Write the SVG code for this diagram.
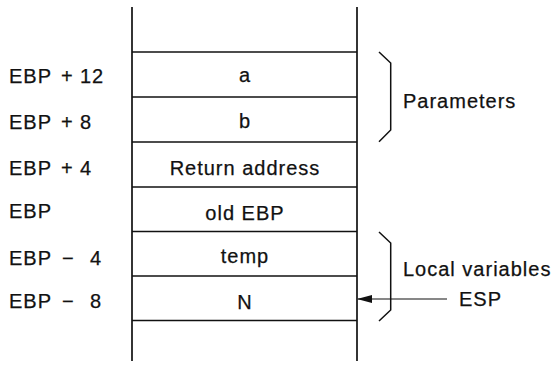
<svg xmlns="http://www.w3.org/2000/svg" width="554" height="366" viewBox="0 0 554 366">
<style>
text{font-family:"Liberation Sans",Arial,sans-serif;font-size:20px;letter-spacing:1px;fill:#111;stroke:#111;stroke-width:0.25}
.c{text-anchor:middle}
.v{stroke:#111;stroke-width:1.7;fill:none}
.h{stroke:#111;stroke-width:1.3;fill:none}
.b{stroke:#111;stroke-width:1.5;fill:none;stroke-linejoin:miter}
</style>
<defs>
<marker id="ah" markerWidth="15" markerHeight="8" refX="14" refY="4" orient="auto" markerUnits="userSpaceOnUse">
<path d="M0,0 L15,4 L0,8 Z" fill="#111"/>
</marker>
</defs>
<rect width="554" height="366" fill="#fff"/>
<g id="stack">
<line class="v" x1="132" y1="7" x2="132" y2="361"/>
<line class="v" x1="357" y1="7" x2="357" y2="361"/>
</g>
<g id="cell-a">
<line class="h" x1="132" y1="52" x2="357" y2="52"/>
<text class="c" x="245" y="82">a</text>
</g>
<g id="cell-b">
<line class="h" x1="132" y1="97" x2="357" y2="97"/>
<text class="c" x="245" y="128">b</text>
</g>
<g id="cell-ret">
<line class="h" x1="132" y1="142" x2="357" y2="142"/>
<text class="c" x="245" y="175">Return address</text>
</g>
<g id="cell-oldebp">
<line class="h" x1="132" y1="187" x2="357" y2="187"/>
<text class="c" x="245" y="220">old EBP</text>
</g>
<g id="cell-temp">
<line class="h" x1="132" y1="231.5" x2="357" y2="231.5"/>
<text class="c" x="245" y="263">temp</text>
</g>
<g id="cell-n">
<line class="h" x1="132" y1="276" x2="357" y2="276"/>
<line class="h" x1="132" y1="320.5" x2="357" y2="320.5"/>
<text class="c" x="245" y="309">N</text>
</g>
<g id="labels">
<text x="9" y="83">EBP <tspan x="61">+</tspan> <tspan x="80">12</tspan></text>
<text x="9" y="129">EBP <tspan x="61">+</tspan> <tspan x="80">8</tspan></text>
<text x="9" y="175">EBP <tspan x="61">+</tspan> <tspan x="80">4</tspan></text>
<text x="9" y="218">EBP</text>
<text x="9" y="265">EBP <tspan x="62">−</tspan> <tspan x="90">4</tspan></text>
<text x="9" y="308">EBP <tspan x="62">−</tspan> <tspan x="90">8</tspan></text>
</g>
<g id="parameters">
<path class="b" d="M379,52 L390.7,63 L390.7,130 L379,141.7"/>
<text x="403" y="108">Parameters</text>
</g>
<g id="locals">
<path class="b" d="M379,232 L390.7,243 L390.7,310 L379,321"/>
<text x="403" y="276">Local variables</text>
</g>
<g id="esp">
<text x="459" y="306">ESP</text>
</g>
<g id="connectors">
<line x1="447" y1="299" x2="358" y2="299" stroke="#111" stroke-width="1.1" marker-end="url(#ah)"/>
</g>
</svg>
